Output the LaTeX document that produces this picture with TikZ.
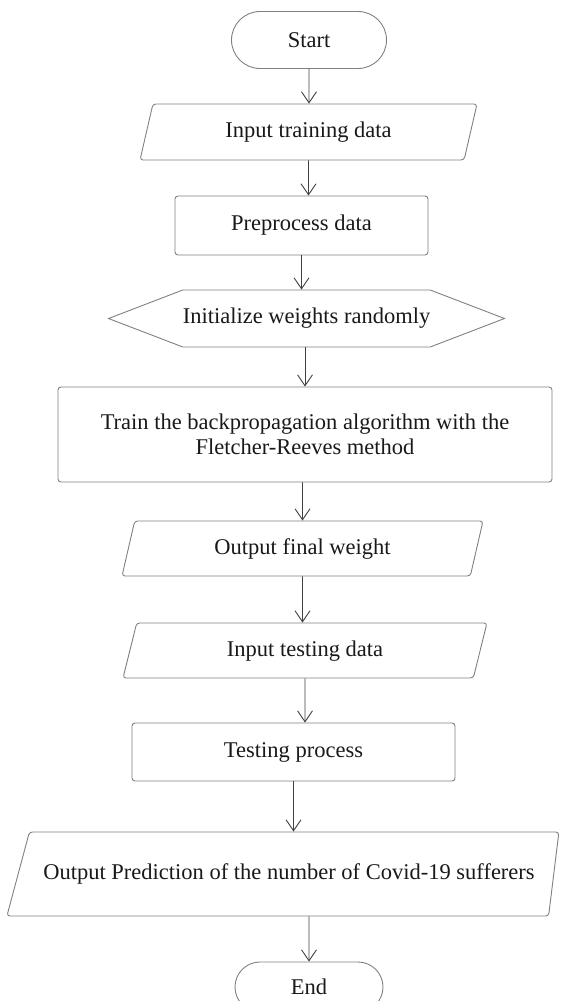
\documentclass[tikz,border=0pt]{standalone}
\usepackage{fontspec}
\setmainfont{Liberation Serif}
\usetikzlibrary{shapes.geometric,shapes.misc,shapes.symbols,arrows.meta}
\tikzset{
  base/.style={draw=black!50, line width=0.9pt, text=black!90, inner xsep=0pt,
    align=center, font=\fontsize{22.5}{25}\selectfont},
  term/.style={base, rounded rectangle},
  iobox/.style={base, trapezium, trapezium stretches body, rounded corners=3pt,
    text height=16pt, text depth=5pt},
  procbox/.style={base, rectangle, rounded corners=3pt},
  hexbox/.style={base, signal, signal to=west and east, signal pointer angle=42},
  flow/.style={draw=black!75, line width=0.9pt, -{Straight Barb[length=11pt,width=15pt]}}
}
\begin{document}
\begin{tikzpicture}[x=1pt,y=-1pt]
\useasboundingbox (0,0) rectangle (566,1001);
\clip (0,0) rectangle (566,1001);
\node[term, minimum width=155, minimum height=57] (start) at (309,40) {Start};
\node[iobox, trapezium left angle=77, trapezium right angle=103, inner ysep=17.5,
  minimum width=337] (intrain) at (308.5,132) {Input training data};
\node[procbox, minimum width=253, minimum height=59] (preproc) at (301.5,225.5) {Preprocess data};
\node[hexbox, minimum width=387, minimum height=57] (initw) at (306.5,318.5) {Initialize weights randomly};
\node[procbox, minimum width=494, minimum height=95] (train) at (305,434.5)
  {Train the backpropagation algorithm with the\\Fletcher-Reeves method};
\node[iobox, trapezium left angle=77, trapezium right angle=103, inner ysep=17,
  minimum width=361] (outw) at (302.5,548.5) {Output final weight};
\node[iobox, trapezium left angle=76, trapezium right angle=104, inner ysep=17,
  minimum width=364] (intest) at (305,650.5) {Input testing data};
\node[procbox, minimum width=323, minimum height=58] (testing) at (293.5,752) {Testing process};
\node[iobox, trapezium left angle=75, trapezium right angle=97, inner ysep=31.5,
  minimum width=552] (outpred) at (289,874)
  {Output Prediction of the number of Covid-19 sufferers};
\node[term, minimum width=148, minimum height=50] (finish) at (309,987) {End};
% arrows
\draw[flow] (start) -- (start |- intrain.north);
\draw[flow] (intrain) -- (intrain |- preproc.north);
\draw[flow] (preproc) -- (preproc |- initw.north);
\draw[flow] (train |- initw.south) -- (train);
\draw[flow] (outw |- train.south) -- (outw);
\draw[flow] (outw) -- (outw |- intest.north);
\draw[flow] (intest) -- (intest |- testing.north);
\draw[flow] (testing) -- (testing |- outpred.north);
\draw[flow] (finish |- outpred.south) -- (finish);
\end{tikzpicture}
\end{document}
